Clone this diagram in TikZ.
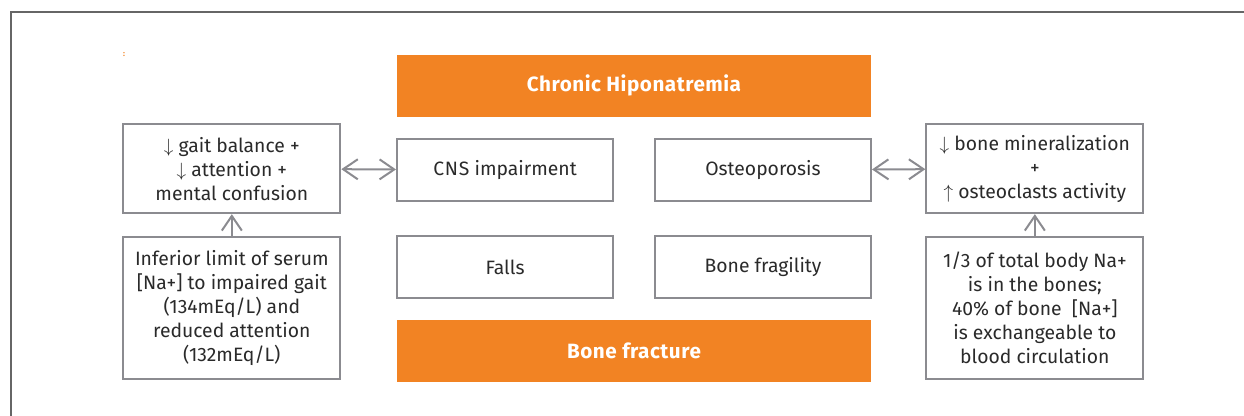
\documentclass[tikz,border=0pt]{standalone}
\usepackage{fontspec}
\setmainfont{Fira Sans}
\newfontfamily\titlefont[LetterSpace=2.5]{Fira Sans}
\usepackage{amsmath, amssymb}
\usetikzlibrary{arrows.meta, positioning, calc}
\definecolor{hiporange}{HTML}{F28323}
\definecolor{boxgray}{HTML}{8B8B90}
\definecolor{framegray}{HTML}{666666}
\definecolor{txtgray}{HTML}{2A2A2A}

\begin{document}
\begin{tikzpicture}[
    font=\fontsize{14.5}{18}\selectfont, text=txtgray,
    node distance=24.75pt and 30pt,
    plain_box/.style={rectangle, draw=boxgray, line width=1.5pt, fill=white, align=center, minimum width=162pt, minimum height=46.5pt},
    side_box/.style={plain_box, minimum width=162.75pt, inner sep=2pt},
    orange_box/.style={rectangle, fill=hiporange, text=white, font=\titlefont\fontsize{15.5}{18}\selectfont\bfseries, minimum width=355.5pt, minimum height=46.5pt},
    link/.style={draw=boxgray, line width=1.5pt, {Straight Barb[length=11pt,width=15pt]}-{Straight Barb[length=11pt,width=15pt]}},
    feed/.style={draw=boxgray, line width=1.5pt, -{Straight Barb[length=11pt,width=15pt]}},
    ]
    \useasboundingbox (0,0) rectangle (933pt,-312pt);
    % Frame
    \draw[framegray, line width=1.5pt] (8.25pt,-312pt) -- (8.25pt,-9pt) -- (933pt,-9pt);
    \node[text=hiporange, inner sep=0pt, font=\fontsize{6}{6}\selectfont\bfseries] (dot) at (93pt,-41.25pt) {:};

    % Nodes
    \node[plain_box] (cns) at (378.75pt,-127.5pt) {C\kern0.6ptN\kern0.6ptS impairment};
    \node[plain_box] (osteo) [right=of cns] {Osteoporosis};
    \node[plain_box] (falls) [below=of cns] {Falls};
    \node[plain_box] (fragility) [below=of osteo] {Bone fragility};
    \coordinate (midtop) at ($(cns.north)!0.5!(osteo.north)$);
    \coordinate (midbot) at ($(falls.south)!0.5!(fragility.south)$);
    \node[orange_box, anchor=south] (chronic) [above=15.75pt of midtop] {Chronic Hiponatremia};
    \node[orange_box, anchor=north] (fracture) [below=15.75pt of midbot] {Bone fracture};

    \node[side_box, minimum height=66.75pt] (gait) [left=41pt of cns, yshift=1pt] {$\downarrow$ gait balance +\\$\downarrow$ attention +\\mental confusion};
    \node[side_box, minimum height=106.5pt, anchor=north] (serum) [below=16.5pt of gait] {Inferior limit of serum\\{[}Na+{]} to impaired gait\\(134mEq/L) and\\reduced attention\\(132mEq/L)};
    \node[side_box, minimum height=66.75pt] (mineral) [right=40pt of osteo, yshift=1pt] {$\downarrow$ bone mineralization\\+\\$\uparrow$ osteoclasts activity};
    \node[side_box, minimum height=106.5pt, anchor=north] (sodium) [below=16.5pt of mineral] {1/3 of total body Na+\\is in the bones;\\40\% of bone~ {[}Na+{]}\\is exchangeable to\\blood circulation};

    % Arrows
    \draw[link] (gait) -- (cns); \draw[link] (osteo) -- (mineral);
    \draw[feed] (serum) -- (gait); \draw[feed] (sodium) -- (mineral);
\end{tikzpicture}
\end{document}
